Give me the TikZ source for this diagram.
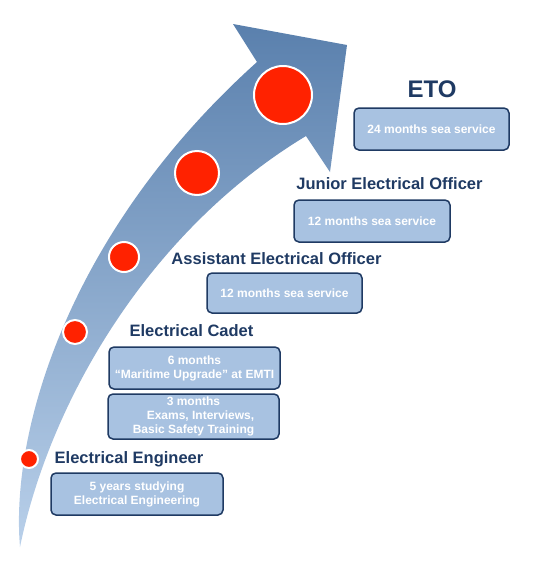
\documentclass[tikz,border=0pt]{standalone}
\usepackage{fontspec}
\setmainfont{Liberation Sans}
\definecolor{navy}{HTML}{1F3A63}
\definecolor{boxfill}{HTML}{A8C2E1}
\definecolor{arrowtop}{HTML}{5A80AD}
\definecolor{arrowmid}{HTML}{9CB8DA}
\definecolor{arrowbot}{HTML}{B9D0EA}
\definecolor{dotred}{HTML}{FF2200}
\begin{document}
\begin{tikzpicture}[x=1pt,y=-1pt,
  stagebox/.style={draw=navy,line width=1.5pt,fill=boxfill,rounded corners=5pt,
    text=white,font=\fontsize{12}{14}\selectfont\bfseries,align=center,inner sep=0pt},
  title/.style={text=navy,font=\fontsize{16.5}{18}\selectfont\bfseries,inner sep=0pt},
  dot/.style={circle,fill=dotred,draw=white,line width=2pt,inner sep=0pt}]
\useasboundingbox (0,0) rectangle (540,563);
% arrow
\shade[top color=arrowtop,middle color=arrowmid,bottom color=arrowbot]
  (20,547) .. controls (10,430) and (70,230) .. (257,62) -- (233,24) -- (347,45)
  -- (330,172) -- (306,136) .. controls (150,230) and (50,400) .. (20,547) -- cycle;
% dots
\node[dot,minimum size=58pt] (d5) at (283,95) {};
\node[dot,minimum size=44pt] (d4) at (197,173) {};
\node[dot,minimum size=30pt] (d3) at (124,257) {};
\node[dot,minimum size=24pt] (d2) at (75,332) {};
\node[dot,minimum size=18pt] (d1) at (29,459) {};
% titles
\node[title,font=\fontsize{24}{26}\selectfont\bfseries] (teto) at (432,89) {ETO};
\node[title] (tjeo) at (389.5,184) {Junior Electrical Officer};
\node[title] (taeo) at (276.5,259) {Assistant Electrical Officer};
\node[title] (tcad) at (191.5,331) {Electrical Cadet};
\node[title] (tee) at (129,459) {Electrical Engineer};
% boxes
\node[stagebox,minimum width=155pt,minimum height=42pt] (beto) at (431.5,129) {24 months sea service};
\node[stagebox,minimum width=156pt,minimum height=42pt] (bjeo) at (372,221) {12 months sea service};
\node[stagebox,minimum width=155pt,minimum height=40pt] (baeo) at (284.5,293) {12 months sea service};
\node[stagebox,minimum width=171pt,minimum height=42pt] (bcad1) at (194.5,368) {6 months\\“Maritime Upgrade” at EMTI};
\node[stagebox,minimum width=171pt,minimum height=45pt] (bcad2) at (193.5,416.5) {3 months\\\hspace*{14pt}Exams, Interviews,\\Basic Safety Training};
\node[stagebox,minimum width=172pt,minimum height=42pt] (bee) at (137,494) {5 years studying\\Electrical Engineering};
\end{tikzpicture}
\end{document}
